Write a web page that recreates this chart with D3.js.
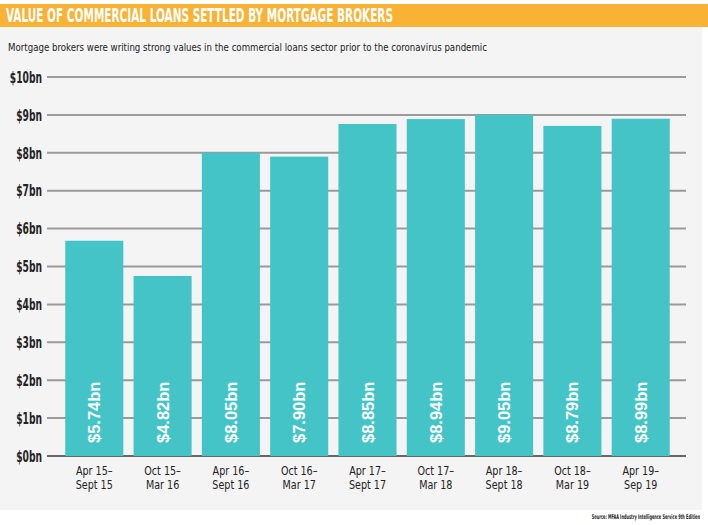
<!DOCTYPE html>
<html><head><meta charset="utf-8">
<script src="https://cdn.jsdelivr.net/npm/d3@7"></script>
<style>body{margin:0;background:#fff;} svg{display:block;}</style>
</head><body>
<svg id="c" width="708" height="525"></svg>
<script>
const categories = [["Apr 15–","Sept 15"],["Oct 15–","Mar 16"],["Apr 16–","Sept 16"],["Oct 16–","Mar 17"],["Apr 17–","Sept 17"],["Oct 17–","Mar 18"],["Apr 18–","Sept 18"],["Oct 18–","Mar 19"],["Apr 19–","Sep 19"]];
const barValues = [5.68, 4.75, 8.0, 7.9, 8.76, 8.89, 9.0, 8.71, 8.9];
const valueLabels = ["$5.74bn","$4.82bn","$8.05bn","$7.90bn","$8.85bn","$8.94bn","$9.05bn","$8.79bn","$8.99bn"];
const yTicks = [0,1,2,3,4,5,6,7,8,9,10];
const yTickLabels = yTicks.map(d => "$" + d + "bn");

const svg = d3.select("#c");
const narrow = "'Liberation Sans Narrow','DejaVu Sans Condensed',sans-serif";

svg.append("rect").attr("x",0).attr("y",27).attr("width",702).attr("height",483).attr("fill","#f4f4f4");
svg.append("rect").attr("x",0).attr("y",4).attr("width",708).attr("height",23).attr("fill","#f9b233");
svg.append("text").attr("x",6).attr("y",22).attr("fill","#fff")
  .style("font-family",narrow).style("font-weight","bold").style("font-size","19px")
  .attr("textLength",387).attr("lengthAdjust","spacingAndGlyphs")
  .text("VALUE OF COMMERCIAL LOANS SETTLED BY MORTGAGE BROKERS");
svg.append("text").attr("x",8).attr("y",51).attr("fill","#222")
  .style("font-family",narrow).style("font-size","11px")
  .attr("textLength",479).attr("lengthAdjust","spacingAndGlyphs")
  .text("Mortgage brokers were writing strong values in the commercial loans sector prior to the coronavirus pandemic");

const y = d3.scaleLinear().domain([0,10]).range([456,77]);
const x = d3.scaleBand().domain(d3.range(categories.length)).range([55,680]).paddingInner(0.15).paddingOuter(0.15);

// gridlines
svg.append("g").selectAll("line").data(yTicks).join("line")
  .attr("x1",47).attr("x2",686).attr("y1",d=>y(d)).attr("y2",d=>y(d))
  .attr("stroke", d => d===0 ? "#666" : "#9a9a9a").attr("stroke-width",2);

// y axis labels
const yAxis = d3.axisLeft(y).tickValues(yTicks).tickFormat((d,i)=>yTickLabels[i]).tickSize(0).tickPadding(0);
const ga = svg.append("g").attr("transform","translate(42,0) scale(0.68,1)").call(yAxis);
ga.select(".domain").remove();
ga.selectAll("text").attr("fill","#222").attr("dy","0.35em")
  .style("font-family",narrow).style("font-weight","bold").style("font-size","15px");

// bars
svg.append("g").selectAll("rect").data(barValues).join("rect")
  .attr("x",(d,i)=>x(i)).attr("width",x.bandwidth())
  .attr("y",d=>y(d)).attr("height",d=>y(0)-y(d))
  .attr("fill","#45c4c8");

// value labels
svg.append("g").selectAll("text").data(valueLabels).join("text")
  .attr("transform",(d,i)=>`translate(${x(i)+x.bandwidth()/2+6},443) rotate(-90)`)
  .attr("fill","#fff").style("font-family","'Liberation Sans',Arial,sans-serif")
  .style("font-weight","bold").style("font-size","16.5px")
  .text(d=>d);

// x labels (two lines each, as separate texts)
const xg = svg.append("g");
categories.forEach((lines,i)=>{
  lines.forEach((t,j)=>{
    xg.append("text")
      .attr("transform",`translate(${x(i)+x.bandwidth()/2},${475+j*14}) scale(0.82,1)`)
      .attr("text-anchor","middle").attr("fill","#222")
      .style("font-family",narrow).style("font-size","13px")
      .text(t);
  });
});

svg.append("text").attr("transform","translate(700,519) scale(0.6,1)").attr("text-anchor","end").attr("fill","#222")
  .style("font-family",narrow).style("font-weight","bold").style("font-size","6.5px")
  .text("Source: MFAA Industry Intelligence Service 9th Edition");
</script>
</body></html>
